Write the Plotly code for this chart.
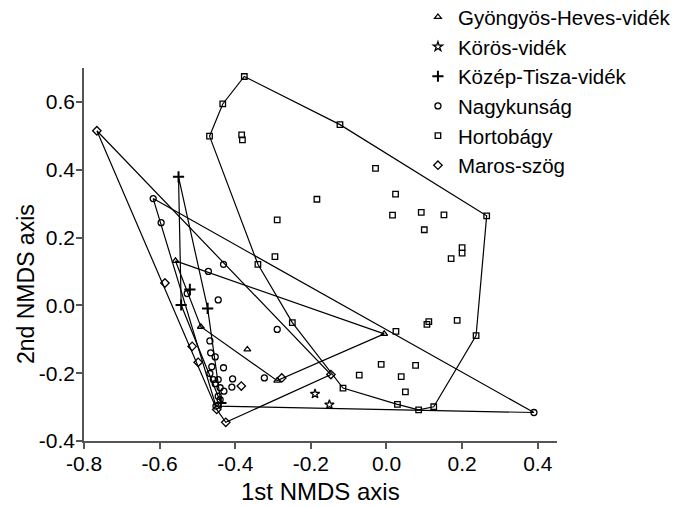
import plotly.graph_objects as go

# ---- data ----
gh_x = [-0.558, -0.491, -0.368, -0.289, -0.006]
gh_y = [0.131, -0.063, -0.130, -0.222, -0.084]

ko_x = [-0.189, -0.151]
ko_y = [-0.261, -0.293]

kt_x = [-0.550, -0.520, -0.543, -0.473, -0.438]
kt_y = [0.379, 0.047, 0.001, -0.009, -0.288]

nk_x = [-0.617, -0.596, -0.431, -0.471, -0.527, -0.445, -0.289, -0.467, -0.465,
        -0.453, -0.462, -0.431, -0.467, -0.458, -0.445, -0.407, -0.323, -0.453,
        -0.440, -0.409, -0.430, -0.445, -0.440, -0.451, 0.390]
nk_y = [0.315, 0.244, 0.121, 0.100, 0.035, 0.016, -0.071, -0.105, -0.140,
        -0.152, -0.181, -0.184, -0.201, -0.219, -0.219, -0.217, -0.214, -0.231,
        -0.243, -0.241, -0.253, -0.268, -0.278, -0.297, -0.316]

hb_x = [-0.376, -0.433, -0.468, -0.383, -0.381, -0.123, -0.029, -0.184, 0.024,
        0.016, 0.092, 0.152, 0.265, 0.100, 0.200, 0.200, 0.171, -0.289, -0.295,
        -0.340, -0.249, 0.025, 0.112, 0.107, 0.187, 0.237, -0.014, 0.077, -0.072,
        0.039, 0.050, -0.115, 0.029, 0.085, 0.125]
hb_y = [0.675, 0.594, 0.499, 0.503, 0.488, 0.533, 0.404, 0.313, 0.328,
        0.266, 0.274, 0.267, 0.264, 0.223, 0.170, 0.154, 0.138, 0.252, 0.144,
        0.121, -0.051, -0.077, -0.048, -0.056, -0.044, -0.089, -0.174, -0.177,
        -0.206, -0.210, -0.255, -0.244, -0.292, -0.308, -0.299]

ms_x = [-0.766, -0.586, -0.514, -0.498, -0.384, -0.277, -0.147, -0.449, -0.425]
ms_y = [0.515, 0.066, -0.121, -0.168, -0.238, -0.214, -0.204, -0.307, -0.345]

x_ticks = [-0.8, -0.6, -0.4, -0.2, 0.0, 0.2, 0.4]
y_ticks = [-0.4, -0.2, 0.0, 0.2, 0.4, 0.6]

groups = [
    ("Gyöngyös-Heves-vidék", gh_x, gh_y, "triangle-up-open", 6),
    ("Körös-vidék", ko_x, ko_y, "star-open", 7),
    ("Közép-Tisza-vidék", kt_x, kt_y, "cross-thin-open", 8),
    ("Nagykunság", nk_x, nk_y, "circle-open", 6),
    ("Hortobágy", hb_x, hb_y, "square-open", 5.5),
    ("Maros-szög", ms_x, ms_y, "diamond-open", 6.5),
]


def convex_hull(xs, ys):
    pts = sorted(set(zip(xs, ys)))
    if len(pts) < 3:
        return []

    def cross(o, a, b):
        return (a[0] - o[0]) * (b[1] - o[1]) - (a[1] - o[1]) * (b[0] - o[0])

    lower, upper = [], []
    for p in pts:
        while len(lower) >= 2 and cross(lower[-2], lower[-1], p) <= 0:
            lower.pop()
        lower.append(p)
    for p in reversed(pts):
        while len(upper) >= 2 and cross(upper[-2], upper[-1], p) <= 0:
            upper.pop()
        upper.append(p)
    hull = lower[:-1] + upper[:-1]
    return hull + [hull[0]]


fig = go.Figure()

for name, xs, ys, sym, sz in groups:
    h = convex_hull(xs, ys)
    if h:
        fig.add_trace(go.Scatter(
            x=[p[0] for p in h], y=[p[1] for p in h], mode="lines",
            line=dict(color="black", width=1.2), showlegend=False,
            hoverinfo="skip"))

for name, xs, ys, sym, sz in groups:
    lw = 2 if "cross" in sym else 1.3
    fig.add_trace(go.Scatter(
        x=xs, y=ys, mode="markers", name=name,
        marker=dict(symbol=sym, size=sz, color="black",
                    line=dict(color="black", width=lw))))

font = "Liberation Sans, Arial, sans-serif"
axis_common = dict(showgrid=False, zeroline=False, showline=True,
                   linecolor="#555", linewidth=1.5, ticks="outside",
                   ticklen=6, tickcolor="#555", tickwidth=1.5,
                   ticklabelstandoff=-3,
                   tickfont=dict(size=21, family=font, color="black"))
fig.update_layout(
    width=681, height=507,
    margin=dict(l=84, r=124, t=68, b=66, autoexpand=False),
    paper_bgcolor="white", plot_bgcolor="white",
    font=dict(family=font, color="black", size=20),
    showlegend=True,
    legend=dict(x=0.706, y=1.19, xanchor="left", yanchor="top",
                font=dict(size=20.5, family=font, color="black"),
                bgcolor="rgba(0,0,0,0)", itemwidth=30,
                tracegroupgap=0),
    xaxis=dict(range=[-0.8, 0.451], tickvals=x_ticks,
               ticktext=[f"{v:.1f}" for v in x_ticks], **axis_common),
    yaxis=dict(range=[-0.4, 0.70], tickvals=y_ticks,
               ticktext=[f"{v:.1f}" for v in y_ticks], **axis_common),
    annotations=[
        dict(text="1st NMDS axis", xref="paper", yref="paper",
             x=0.5, y=-0.178, xanchor="center", yanchor="bottom",
             showarrow=False, font=dict(size=24, family=font, color="black")),
        dict(text="2nd NMDS axis", xref="paper", yref="paper",
             x=-0.1226, y=0.4209, xanchor="center", yanchor="middle",
             textangle=-90, showarrow=False,
             font=dict(size=23, family=font, color="black")),
    ],
)

fig.write_html("out.html")
